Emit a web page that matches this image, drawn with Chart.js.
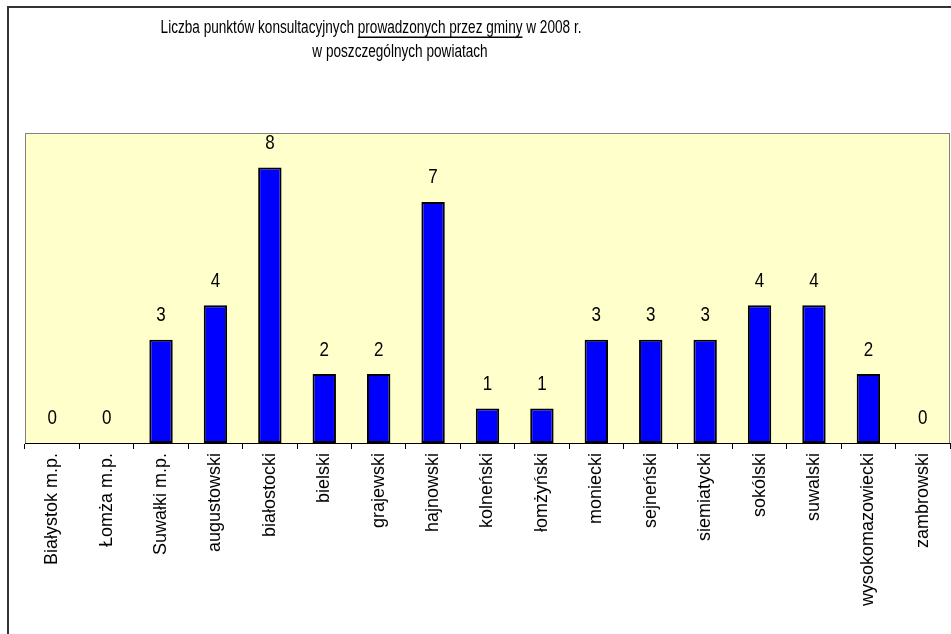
<!DOCTYPE html>
<html>
<head>
<meta charset="utf-8">
<script src="https://cdn.jsdelivr.net/npm/chart.js@4.4.0/dist/chart.umd.min.js"></script>
<style>
  html, body { margin: 0; padding: 0; background: #fff; }
  #wrap { width: 951px; height: 634px; }
</style>
</head>
<body>
<div id="wrap"><canvas id="chart" width="951" height="634"></canvas></div>
<script>
// dane z wykresu
const powiaty = ['Białystok m.p.', 'Łomża m.p.', 'Suwałki m.p.', 'augustowski', 'białostocki', 'bielski',
    'grajewski', 'hajnowski', 'kolneński', 'łomżyński', 'moniecki', 'sejneński', 'siemiatycki',
    'sokólski', 'suwalski', 'wysokomazowiecki', 'zambrowski'];
const punkty = [0, 0, 3, 4, 8, 2, 2, 7, 1, 1, 3, 3, 3, 4, 4, 2, 0];
const tytulLinia1 = ['Liczba punktów konsultacyjnych ', 'prowadzonych przez gminy', ' w 2008 r.'];
const tytulLinia2 = 'w poszczególnych powiatach';

const FONT = '"Liberation Sans", Arial, sans-serif';
const ROZCIAG = 1.3; // oryginał jest rozciągnięty w pionie

// tło, ramka, tytuł i obszar wykresu
const tloPlugin = {
    id: 'tlo',
    beforeDraw(chart) {
        const ctx = chart.ctx;
        const a = chart.chartArea;
        ctx.save();
        ctx.fillStyle = '#ffffff';
        ctx.fillRect(0, 0, chart.width, chart.height);

        // zewnętrzna ramka (przycięta z prawej i od dołu)
        ctx.strokeStyle = '#333333';
        ctx.lineWidth = 2;
        ctx.beginPath();
        ctx.moveTo(8, chart.height);
        ctx.lineTo(8, 7);
        ctx.lineTo(chart.width, 7);
        ctx.stroke();

        // obszar kreślenia
        ctx.fillStyle = '#ffffcc';
        ctx.fillRect(a.left, a.top, a.right - a.left, a.bottom - a.top);
        ctx.strokeStyle = '#808080';
        ctx.lineWidth = 1;
        ctx.strokeRect(a.left + 0.5, a.top + 0.5, a.right - a.left - 1, a.bottom - a.top);

        // tytuł (skalowany w pionie jak w oryginale)
        ctx.fillStyle = '#000';
        ctx.font = '13.6px ' + FONT;
        ctx.textBaseline = 'alphabetic';
        ctx.textAlign = 'left';
        const szer = tytulLinia1.map(t => ctx.measureText(t).width);
        let x = 371 - (szer[0] + szer[1] + szer[2]) / 2;
        const x0 = x;
        ctx.save();
        ctx.scale(1, ROZCIAG);
        tytulLinia1.forEach(t => {
            ctx.fillText(t, x, 33.3 / ROZCIAG);
            x += ctx.measureText(t).width;
        });
        ctx.textAlign = 'center';
        ctx.fillText(tytulLinia2, 400, 56.5 / ROZCIAG);
        ctx.restore();
        // podkreślenie
        ctx.fillRect(x0 + szer[0], 36.5, szer[1], 1.5);
        ctx.restore();
    }
};

// wartości nad słupkami
const etykietyPlugin = {
    id: 'etykiety',
    afterDatasetsDraw(chart) {
        const ctx = chart.ctx;
        const meta = chart.getDatasetMeta(0);
        ctx.save();
        ctx.fillStyle = '#000';
        ctx.font = '17px ' + FONT;
        ctx.textAlign = 'center';
        ctx.textBaseline = 'middle';
        meta.data.forEach((bar, i) => {
            ctx.save();
            ctx.translate(bar.x, bar.y - 24);
            ctx.scale(1, 1.15);
            ctx.fillText(String(punkty[i]), 0, 0);
            ctx.restore();
        });
        ctx.restore();
    }
};

new Chart(document.getElementById('chart'), {
    type: 'bar',
    data: {
        labels: powiaty,
        datasets: [{
            data: punkty,
            backgroundColor: '#0000ff',
            borderColor: '#000000',
            borderWidth: 2,
            borderSkipped: false,
            barPercentage: 0.43,
            categoryPercentage: 1
        }]
    },
    options: {
        responsive: false,
        animation: false,
        layout: { padding: { left: 25, right: 1, top: 133, bottom: 0 } },
        plugins: {
            legend: { display: false },
            title: { display: false },
            tooltip: { enabled: false }
        },
        scales: {
            x: {
                afterFit(scale) { scale.height = 191; },
                border: { color: '#000', width: 1 },
                grid: {
                    offset: true,
                    drawOnChartArea: false,
                    drawTicks: true,
                    tickLength: 6,
                    color: '#000'
                },
                ticks: {
                    minRotation: 90,
                    maxRotation: 90,
                    autoSkip: false,
                    padding: 4,
                    color: '#000',
                    font: { family: FONT, size: 18 }
                }
            },
            y: {
                display: false,
                min: 0,
                max: 9
            }
        }
    },
    plugins: [tloPlugin, etykietyPlugin]
});
</script>
</body>
</html>
